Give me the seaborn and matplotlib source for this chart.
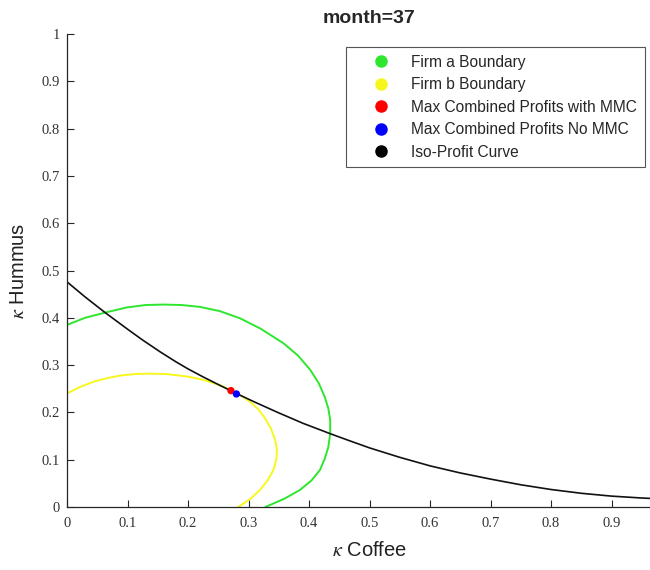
import seaborn as sns
import matplotlib.pyplot as plt
from matplotlib.lines import Line2D

# iso-profit curve
coffee_iso = [0.0, 0.03, 0.063, 0.10, 0.125, 0.154, 0.18, 0.20, 0.225, 0.253, 0.28, 0.31, 0.35, 0.39,
              0.435, 0.465, 0.50, 0.55, 0.60, 0.65, 0.70, 0.75, 0.80, 0.85, 0.90, 0.95, 1.0]
hummus_iso = [0.476, 0.444, 0.411, 0.376, 0.353, 0.328, 0.307, 0.292, 0.275, 0.257, 0.240, 0.222, 0.199, 0.177,
              0.155, 0.141, 0.125, 0.105, 0.087, 0.072, 0.059, 0.047, 0.037, 0.029, 0.023, 0.019, 0.016]

# firm a boundary
coffee_a = [0.0, 0.03, 0.063, 0.099, 0.13, 0.159, 0.19, 0.220, 0.253, 0.286, 0.32, 0.358, 0.382, 0.402,
            0.416, 0.426, 0.432, 0.435, 0.435, 0.432, 0.426, 0.418, 0.404, 0.385, 0.36, 0.328]
hummus_a = [0.385, 0.400, 0.411, 0.422, 0.427, 0.428, 0.427, 0.423, 0.414, 0.399, 0.377, 0.346, 0.320, 0.290,
            0.262, 0.233, 0.208, 0.184, 0.155, 0.127, 0.102, 0.078, 0.056, 0.036, 0.018, 0.0]

# firm b boundary
coffee_b = [0.0, 0.02, 0.044, 0.065, 0.088, 0.112, 0.137, 0.165, 0.198, 0.222, 0.242, 0.258, 0.272, 0.288,
            0.302, 0.316, 0.327, 0.337, 0.344, 0.347, 0.346, 0.341, 0.332, 0.319, 0.303, 0.283]
hummus_b = [0.240, 0.253, 0.265, 0.272, 0.278, 0.281, 0.282, 0.281, 0.276, 0.270, 0.262, 0.255, 0.246, 0.235,
            0.223, 0.207, 0.188, 0.166, 0.142, 0.121, 0.100, 0.078, 0.057, 0.036, 0.017, 0.0]

# optimum points
mmc_point = (0.271, 0.246)
no_mmc_point = (0.280, 0.239)

legend_labels = ['Firm a Boundary', 'Firm b Boundary', 'Max Combined Profits with MMC',
                 'Max Combined Profits No MMC', 'Iso-Profit Curve']
x_ticks = [0, 0.1, 0.2, 0.3, 0.4, 0.5, 0.6, 0.7, 0.8, 0.9]
x_tick_labels = ['0', '0.1', '0.2', '0.3', '0.4', '0.5', '0.6', '0.7', '0.8', '0.9']
y_ticks = [0, 0.1, 0.2, 0.3, 0.4, 0.5, 0.6, 0.7, 0.8, 0.9, 1.0]
y_tick_labels = ['0', '0.1', '0.2', '0.3', '0.4', '0.5', '0.6', '0.7', '0.8', '0.9', '1']

green = '#2ee62e'
yellow = '#f7f71e'
axis_color = '#262626'

sns.set_style('white')
plt.rcParams['font.family'] = ['Liberation Sans', 'DejaVu Sans']
plt.rcParams['mathtext.fontset'] = 'stix'

fig = plt.figure(figsize=(6.5, 5.7), dpi=100)
ax = fig.add_axes([67 / 650, 63 / 570, 605 / 650, 473 / 570])

sns.lineplot(x=coffee_a, y=hummus_a, sort=False, estimator=None, color=green, lw=1.4, ax=ax)
sns.lineplot(x=coffee_b, y=hummus_b, sort=False, estimator=None, color=yellow, lw=1.4, ax=ax)
sns.lineplot(x=coffee_iso, y=hummus_iso, sort=False, estimator=None, color='#111111', lw=1.2, ax=ax)
sns.scatterplot(x=[mmc_point[0]], y=[mmc_point[1]], color='#ff0000', s=28, edgecolor='none', ax=ax, zorder=5)
sns.scatterplot(x=[no_mmc_point[0]], y=[no_mmc_point[1]], color='#0000ff', s=28, edgecolor='none', ax=ax, zorder=6)

ax.set_xlim(0, 1)
ax.set_ylim(0, 1)
ax.set_xticks(x_ticks)
ax.set_xticklabels(x_tick_labels, family='Liberation Serif', fontsize=10.5, color='#333333')
ax.set_yticks(y_ticks)
ax.set_yticklabels(y_tick_labels, family='Liberation Serif', fontsize=10.5, color='#333333')
ax.tick_params(direction='in', length=5, width=0.8, color=axis_color, bottom=True, left=True)
ax.tick_params(axis='x', pad=7)
ax.tick_params(axis='y', pad=5)
for side in ['top', 'right']:
    ax.spines[side].set_visible(False)
for side in ['left', 'bottom']:
    ax.spines[side].set_color(axis_color)
    ax.spines[side].set_linewidth(0.9)

ax.set_xlabel(r'$\kappa$ Coffee', fontsize=14.5, color='#222222')
ax.set_ylabel(r'$\kappa$ Hummus', fontsize=14.5, color='#222222', va='center')
ax.xaxis.set_label_coords(0.5, -0.072)
ax.yaxis.set_label_coords(-0.08, 0.5)
ax.set_title('month=37', fontsize=14, fontweight='bold', pad=8)

handles = [Line2D([], [], ls='none', marker='o', markersize=8, color=c)
           for c in [green, yellow, '#ff0000', '#0000ff', '#000000']]
leg = ax.legend(handles, legend_labels, loc='upper right',
                bbox_to_anchor=(645 / 650, 1 - 47 / 570), bbox_transform=fig.transFigure,
                fontsize=11.2, frameon=True, fancybox=False, framealpha=1,
                borderpad=0.5, labelspacing=0.48, handlelength=3.5, handletextpad=0.2,
                borderaxespad=0)
leg.get_frame().set_edgecolor('#555555')
leg.get_frame().set_linewidth(0.8)

fig.savefig('out.png', dpi=100)
